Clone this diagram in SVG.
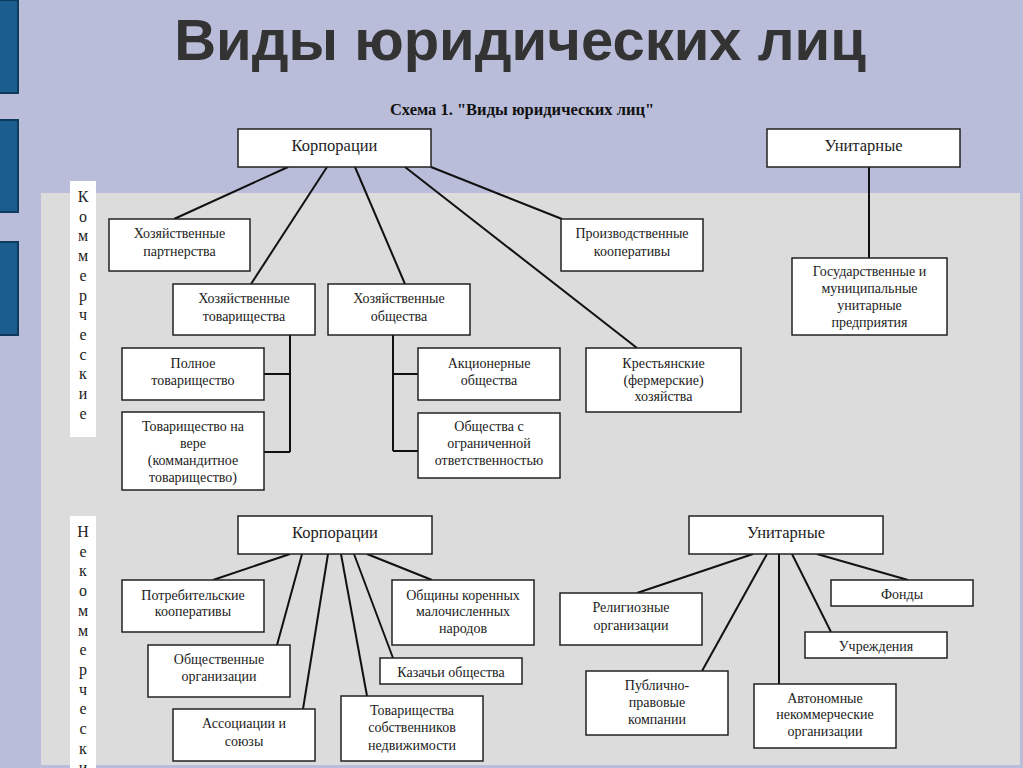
<svg xmlns="http://www.w3.org/2000/svg" width="1023" height="768" viewBox="0 0 1023 768">
<style>
.bg{fill:#b9bdd9}
.panel{fill:#dcdcdc}
.tab{fill:#1b5d8e;stroke:#0f3a5c;stroke-width:2}
.title{font-family:"Liberation Sans",Arial,sans-serif;font-weight:bold;font-size:58px;fill:#333333}
.sub{font-family:"Liberation Serif","Times New Roman",serif;font-weight:bold;font-size:16.5px;fill:#111}
.box{fill:#ffffff;stroke:#222;stroke-width:1.5}
.t{font-family:"Liberation Serif","Times New Roman",serif;font-size:14px;fill:#222;text-anchor:middle}
.th{font-family:"Liberation Serif","Times New Roman",serif;font-size:16.5px;fill:#222;text-anchor:middle}
.strip{fill:#ffffff}
.vt{font-family:"Liberation Serif","Times New Roman",serif;font-size:16px;fill:#222;text-anchor:middle}
.c line,.c path{stroke:#111;stroke-width:2;fill:none}
</style>
<rect class="bg" x="0" y="0" width="1023" height="768"/>
<rect class="panel" x="41" y="193" width="979" height="572"/>
<rect class="tab" x="-2" y="0" width="20" height="93"/>
<rect class="tab" x="-2" y="120" width="20" height="92"/>
<rect class="tab" x="-2" y="242" width="20" height="93"/>
<text class="title" x="520" y="60" text-anchor="middle">Виды  юридических лиц</text>
<text class="sub" x="522" y="115" text-anchor="middle">Схема 1. "Виды юридических лиц"</text>

<g id="label-commercial">
<rect class="strip" x="70" y="181" width="26" height="256"/>
<text class="vt"><tspan x="83" y="202">К</tspan><tspan x="83" dy="19.7">о</tspan><tspan x="83" dy="19.7">м</tspan><tspan x="83" dy="19.7">м</tspan><tspan x="83" dy="19.7">е</tspan><tspan x="83" dy="19.7">р</tspan><tspan x="83" dy="19.7">ч</tspan><tspan x="83" dy="19.7">е</tspan><tspan x="83" dy="19.7">с</tspan><tspan x="83" dy="19.7">к</tspan><tspan x="83" dy="19.7">и</tspan><tspan x="83" dy="19.7">е</tspan></text>
</g>
<g id="label-noncommercial">
<rect class="strip" x="70" y="516" width="26" height="252"/>
<text class="vt"><tspan x="83" y="537">Н</tspan><tspan x="83" dy="19.7">е</tspan><tspan x="83" dy="19.7">к</tspan><tspan x="83" dy="19.7">о</tspan><tspan x="83" dy="19.7">м</tspan><tspan x="83" dy="19.7">м</tspan><tspan x="83" dy="19.7">е</tspan><tspan x="83" dy="19.7">р</tspan><tspan x="83" dy="19.7">ч</tspan><tspan x="83" dy="19.7">е</tspan><tspan x="83" dy="19.7">с</tspan><tspan x="83" dy="19.7">к</tspan><tspan x="83" dy="19.7">и</tspan></text>
</g>

<g id="connectors" class="c">
<line x1="288" y1="167" x2="174" y2="219"/>
<line x1="327" y1="167" x2="251" y2="284"/>
<line x1="355" y1="167" x2="405" y2="284"/>
<line x1="405" y1="167" x2="637" y2="348"/>
<line x1="431" y1="167" x2="562" y2="219"/>
<line x1="869" y1="167" x2="869" y2="258"/>
<path d="M290 335 V452 M264 374 H290 M264 452 H290"/>
<path d="M393 335 V451 M393 374 H418 M393 451 H418"/>
<line x1="290" y1="554" x2="213" y2="580"/>
<line x1="302" y1="554" x2="277" y2="645"/>
<line x1="328" y1="554" x2="303" y2="709"/>
<line x1="341" y1="554" x2="367" y2="696"/>
<line x1="354" y1="554" x2="393" y2="658"/>
<line x1="367" y1="554" x2="432" y2="580"/>
<line x1="753" y1="554" x2="637" y2="593"/>
<line x1="767" y1="554" x2="702" y2="671"/>
<line x1="779" y1="554" x2="779" y2="684"/>
<line x1="792" y1="554" x2="831" y2="632"/>
<line x1="817" y1="554" x2="908" y2="580"/>
</g>

<g id="corp-c"><rect class="box" x="238" y="129" width="193" height="38"/><text class="th" x="334.5" y="151">Корпорации</text></g>
<g id="unit-c"><rect class="box" x="767" y="129" width="193" height="38"/><text class="th" x="863.5" y="151">Унитарные</text></g>
<g id="hoz-partn"><rect class="box" x="109" y="219" width="141" height="52"/><text class="t" x="179.5" y="238">Хозяйственные</text><text class="t" x="179.5" y="256">партнерства</text></g>
<g id="hoz-tov"><rect class="box" x="173" y="284" width="142" height="51"/><text class="t" x="244" y="303">Хозяйственные</text><text class="t" x="244" y="321">товарищества</text></g>
<g id="hoz-obsh"><rect class="box" x="328" y="284" width="142" height="51"/><text class="t" x="399" y="303">Хозяйственные</text><text class="t" x="399" y="321">общества</text></g>
<g id="proizv-koop"><rect class="box" x="561" y="219" width="142" height="52"/><text class="t" x="632" y="238">Производственные</text><text class="t" x="632" y="256">кооперативы</text></g>
<g id="gos-mun"><rect class="box" x="792" y="258" width="155" height="77"/><text class="t" x="869.5" y="276">Государственные и</text><text class="t" x="869.5" y="293">муниципальные</text><text class="t" x="869.5" y="310">унитарные</text><text class="t" x="869.5" y="327">предприятия</text></g>
<g id="polnoe"><rect class="box" x="122" y="348" width="142" height="52"/><text class="t" x="193" y="368">Полное</text><text class="t" x="193" y="385">товарищество</text></g>
<g id="na-vere"><rect class="box" x="122" y="412" width="142" height="78"/><text class="t" x="193" y="431">Товарищество на</text><text class="t" x="193" y="448">вере</text><text class="t" x="193" y="465">(коммандитное</text><text class="t" x="193" y="482">товарищество)</text></g>
<g id="akts"><rect class="box" x="418" y="348" width="142" height="52"/><text class="t" x="489" y="368">Акционерные</text><text class="t" x="489" y="385">общества</text></g>
<g id="ooo"><rect class="box" x="418" y="413" width="142" height="65"/><text class="t" x="489" y="431">Общества с</text><text class="t" x="489" y="448">ограниченной</text><text class="t" x="489" y="465">ответственностью</text></g>
<g id="krest"><rect class="box" x="586" y="348" width="155" height="64"/><text class="t" x="663.5" y="368">Крестьянские</text><text class="t" x="663.5" y="385">(фермерские)</text><text class="t" x="663.5" y="401">хозяйства</text></g>

<g id="corp-n"><rect class="box" x="238" y="516" width="194" height="38"/><text class="th" x="335" y="538">Корпорации</text></g>
<g id="unit-n"><rect class="box" x="689" y="516" width="194" height="38"/><text class="th" x="786" y="538">Унитарные</text></g>
<g id="potreb"><rect class="box" x="122" y="580" width="142" height="52"/><text class="t" x="193" y="600">Потребительские</text><text class="t" x="193" y="616">кооперативы</text></g>
<g id="obshestv"><rect class="box" x="148" y="645" width="142" height="52"/><text class="t" x="219" y="664">Общественные</text><text class="t" x="219" y="681">организации</text></g>
<g id="assoc"><rect class="box" x="173" y="709" width="142" height="52"/><text class="t" x="244" y="728">Ассоциации и</text><text class="t" x="244" y="746">союзы</text></g>
<g id="tsn"><rect class="box" x="341" y="696" width="142" height="65"/><text class="t" x="412" y="715">Товарищества</text><text class="t" x="412" y="732">собственников</text><text class="t" x="412" y="750">недвижимости</text></g>
<g id="kazach"><rect class="box" x="380" y="658" width="142" height="26"/><text class="t" x="451" y="677">Казачьи общества</text></g>
<g id="obshiny"><rect class="box" x="392" y="580" width="142" height="65"/><text class="t" x="463" y="600">Общины коренных</text><text class="t" x="463" y="616">малочисленных</text><text class="t" x="463" y="633">народов</text></g>
<g id="relig"><rect class="box" x="560" y="593" width="142" height="52"/><text class="t" x="631" y="612">Религиозные</text><text class="t" x="631" y="630">организации</text></g>
<g id="publ"><rect class="box" x="586" y="671" width="142" height="64"/><text class="t" x="657" y="690">Публично-</text><text class="t" x="657" y="707">правовые</text><text class="t" x="657" y="724">компании</text></g>
<g id="anko"><rect class="box" x="754" y="684" width="142" height="64"/><text class="t" x="825" y="703">Автономные</text><text class="t" x="825" y="719">некоммерческие</text><text class="t" x="825" y="736">организации</text></g>
<g id="fondy"><rect class="box" x="831" y="580" width="142" height="26"/><text class="t" x="902" y="599">Фонды</text></g>
<g id="uchr"><rect class="box" x="805" y="632" width="142" height="26"/><text class="t" x="876" y="651">Учреждения</text></g>
</svg>
